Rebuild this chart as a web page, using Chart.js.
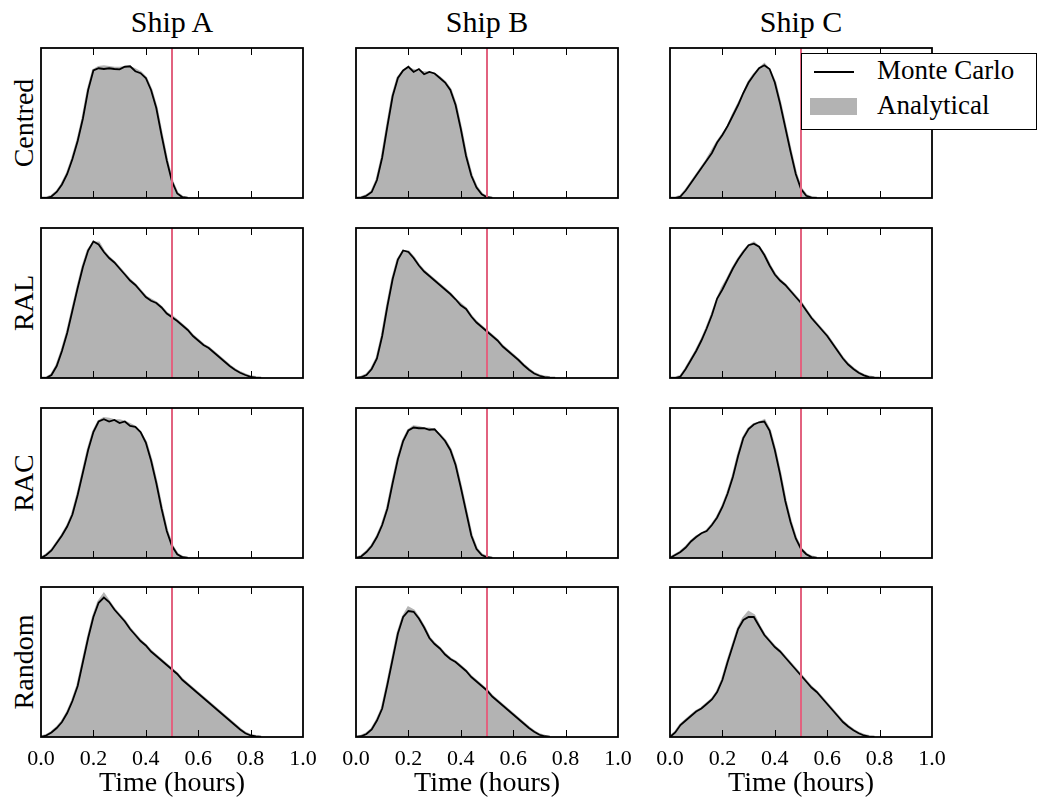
<!DOCTYPE html>
<html><head><meta charset="utf-8">
<script src="https://cdn.jsdelivr.net/npm/chart.js@4.4.1/dist/chart.umd.min.js"></script>
<style>
html,body{margin:0;padding:0;background:#fff;overflow:hidden;}
#fig{position:relative;width:1041px;height:803px;font-family:'Liberation Serif',serif;color:#000;overflow:hidden;}
.panel{position:absolute;}
.coltitle{position:absolute;font-size:30px;line-height:30px;white-space:nowrap;transform:translateX(-50%);}
.rowlabel{position:absolute;font-size:28px;white-space:nowrap;transform:translate(-50%,-50%) rotate(-90deg);}
#legend{position:absolute;left:801px;top:53px;width:234px;height:75px;border:1.5px solid #000;background:#fff;z-index:5;}
#legend .txt{position:absolute;left:75px;font-size:27px;line-height:27px;white-space:nowrap;}
</style></head><body><div id="fig"></div>
<script>
// ---- data ----
const ships = ['Ship A', 'Ship B', 'Ship C'];
const strategies = ['Centred', 'RAL', 'RAC', 'Random'];
const xTicks = [0, 0.2, 0.4, 0.6, 0.8, 1.0];
const threshold = 0.5;
const timeGrid = [0,0.02,0.04,0.06,0.08,0.1,0.12,0.14,0.16,0.18,0.2,0.22,0.24,0.26,0.28,0.3,0.32,0.34,0.36,0.38,0.4,0.42,0.44,0.46,0.48,0.5,0.52,0.54,0.56,0.58,0.6,0.62,0.64,0.66,0.68,0.7,0.72,0.74,0.76,0.78,0.8,0.82,0.84,0.86,0.88,0.9,0.92,0.94,0.96,0.98,1];

const anaCentredA = [0,0,0.01,0.04,0.09,0.16,0.26,0.38,0.53,0.72,0.85,0.87,0.875,0.87,0.865,0.865,0.87,0.87,0.855,0.835,0.8,0.72,0.6,0.42,0.25,0.11,0.03,0.005,0];
const mcCentredA  = [0,0,0.01,0.04,0.09,0.16,0.26,0.38,0.53,0.72,0.85,0.865,0.86,0.865,0.86,0.858,0.875,0.878,0.845,0.832,0.8,0.72,0.6,0.42,0.25,0.11,0.03,0.005,0];
const anaCentredB = [0,0.003,0.015,0.04,0.12,0.27,0.48,0.68,0.8,0.845,0.86,0.85,0.84,0.835,0.835,0.825,0.8,0.77,0.72,0.62,0.46,0.28,0.15,0.07,0.025,0.005,0];
const mcCentredB  = [0,0.003,0.015,0.04,0.12,0.27,0.48,0.68,0.8,0.85,0.875,0.84,0.86,0.825,0.84,0.83,0.8,0.77,0.72,0.62,0.46,0.28,0.15,0.07,0.025,0.005,0];
const anaCentredC = [0,0,0.01,0.05,0.1,0.15,0.2,0.25,0.31,0.37,0.42,0.47,0.55,0.62,0.69,0.77,0.82,0.86,0.89,0.85,0.77,0.63,0.47,0.31,0.16,0.06,0.015,0.003,0];
const mcCentredC  = [0,0,0.01,0.05,0.1,0.15,0.2,0.25,0.3,0.37,0.42,0.48,0.55,0.62,0.7,0.77,0.82,0.865,0.885,0.86,0.77,0.63,0.47,0.31,0.16,0.06,0.015,0.003,0];

const anaRalA = [0,0,0.02,0.08,0.18,0.3,0.45,0.6,0.74,0.85,0.9,0.9,0.84,0.8,0.77,0.73,0.69,0.65,0.62,0.58,0.54,0.52,0.5,0.47,0.43,0.41,0.38,0.35,0.32,0.28,0.25,0.22,0.2,0.17,0.14,0.11,0.08,0.055,0.035,0.02,0.008,0.003,0];
const mcRalA  = [0,0,0.02,0.08,0.18,0.3,0.45,0.6,0.74,0.85,0.91,0.89,0.84,0.8,0.77,0.73,0.69,0.65,0.62,0.58,0.54,0.515,0.5,0.47,0.43,0.405,0.38,0.35,0.32,0.28,0.25,0.22,0.2,0.17,0.14,0.11,0.08,0.055,0.035,0.02,0.008,0.003,0];
const anaRalB = [0,0.005,0.02,0.06,0.13,0.28,0.48,0.66,0.79,0.845,0.84,0.8,0.75,0.71,0.68,0.65,0.62,0.59,0.56,0.52,0.49,0.46,0.41,0.37,0.34,0.31,0.28,0.25,0.21,0.18,0.15,0.12,0.085,0.055,0.03,0.015,0.006,0.002,0];
const mcRalB  = [0,0.005,0.02,0.06,0.13,0.28,0.48,0.66,0.79,0.85,0.84,0.8,0.75,0.71,0.68,0.65,0.62,0.59,0.56,0.525,0.485,0.46,0.41,0.37,0.34,0.31,0.28,0.25,0.21,0.18,0.15,0.12,0.085,0.055,0.03,0.015,0.006,0.002,0];
const anaRalC = [0,0,0.01,0.06,0.12,0.18,0.25,0.33,0.42,0.52,0.6,0.66,0.73,0.79,0.84,0.88,0.9,0.87,0.82,0.75,0.69,0.65,0.62,0.58,0.54,0.5,0.45,0.4,0.36,0.32,0.28,0.23,0.18,0.13,0.09,0.06,0.035,0.018,0.006,0.002,0];
const mcRalC  = [0,0,0.01,0.06,0.12,0.18,0.25,0.33,0.42,0.53,0.59,0.66,0.73,0.79,0.84,0.885,0.895,0.875,0.82,0.75,0.69,0.65,0.62,0.58,0.54,0.5,0.45,0.4,0.36,0.32,0.28,0.23,0.18,0.13,0.09,0.06,0.035,0.018,0.006,0.002,0];

const anaRacA = [0,0.02,0.05,0.1,0.15,0.21,0.29,0.42,0.57,0.72,0.84,0.91,0.93,0.925,0.915,0.915,0.905,0.89,0.87,0.83,0.77,0.65,0.5,0.33,0.18,0.08,0.025,0.005,0];
const mcRacA  = [0,0.02,0.05,0.1,0.15,0.21,0.29,0.42,0.57,0.72,0.84,0.91,0.925,0.91,0.92,0.9,0.91,0.88,0.875,0.84,0.77,0.65,0.5,0.33,0.18,0.08,0.025,0.005,0];
const anaRacB = [0,0.01,0.04,0.08,0.14,0.22,0.33,0.5,0.66,0.78,0.85,0.875,0.87,0.86,0.86,0.85,0.82,0.78,0.72,0.62,0.47,0.31,0.15,0.06,0.02,0.005,0];
const mcRacB  = [0,0.01,0.04,0.08,0.14,0.22,0.33,0.5,0.66,0.78,0.85,0.87,0.865,0.865,0.855,0.858,0.82,0.78,0.72,0.62,0.47,0.31,0.15,0.06,0.02,0.005,0];
const anaRacC = [0,0.02,0.04,0.07,0.11,0.14,0.16,0.18,0.22,0.27,0.34,0.43,0.54,0.68,0.8,0.86,0.89,0.9,0.915,0.85,0.72,0.56,0.38,0.24,0.13,0.06,0.025,0.006,0];
const mcRacC  = [0,0.02,0.04,0.07,0.11,0.14,0.165,0.18,0.22,0.27,0.34,0.43,0.54,0.68,0.8,0.86,0.89,0.905,0.91,0.85,0.72,0.56,0.38,0.24,0.13,0.06,0.025,0.006,0];

const anaRandomA = [0,0.01,0.03,0.06,0.1,0.16,0.24,0.34,0.5,0.66,0.8,0.9,0.95,0.9,0.85,0.81,0.77,0.72,0.68,0.64,0.61,0.57,0.54,0.51,0.48,0.45,0.42,0.38,0.35,0.32,0.29,0.26,0.23,0.2,0.17,0.14,0.11,0.08,0.05,0.025,0.01,0.004,0];
const mcRandomA  = [0,0.01,0.03,0.06,0.1,0.16,0.24,0.34,0.5,0.66,0.8,0.895,0.93,0.9,0.85,0.81,0.77,0.72,0.68,0.64,0.61,0.57,0.54,0.51,0.48,0.45,0.42,0.38,0.35,0.32,0.29,0.26,0.23,0.2,0.17,0.14,0.11,0.08,0.05,0.025,0.01,0.004,0];
const anaRandomB = [0,0.005,0.02,0.05,0.11,0.19,0.35,0.52,0.69,0.8,0.86,0.84,0.79,0.73,0.66,0.62,0.59,0.55,0.52,0.5,0.47,0.44,0.4,0.37,0.34,0.31,0.27,0.24,0.21,0.18,0.15,0.12,0.09,0.06,0.035,0.015,0.005,0];
const mcRandomB  = [0,0.005,0.02,0.05,0.11,0.19,0.35,0.52,0.69,0.8,0.84,0.835,0.79,0.73,0.66,0.62,0.59,0.55,0.52,0.5,0.47,0.44,0.4,0.37,0.34,0.31,0.27,0.24,0.21,0.18,0.15,0.12,0.09,0.06,0.035,0.015,0.005,0];
const anaRandomC = [0,0.03,0.08,0.11,0.14,0.17,0.19,0.22,0.25,0.3,0.38,0.5,0.61,0.72,0.79,0.83,0.81,0.74,0.68,0.64,0.6,0.57,0.53,0.49,0.45,0.41,0.37,0.33,0.3,0.26,0.22,0.18,0.14,0.1,0.07,0.045,0.025,0.01,0.003,0];
const mcRandomC  = [0,0.03,0.08,0.11,0.14,0.17,0.19,0.22,0.25,0.3,0.38,0.5,0.61,0.72,0.78,0.8,0.8,0.74,0.68,0.64,0.6,0.57,0.53,0.49,0.45,0.41,0.37,0.33,0.3,0.26,0.22,0.18,0.14,0.1,0.07,0.045,0.025,0.01,0.003,0];

// table built from the arrays: [row][col] -> [analytical, monteCarlo]
const panelData = [
  [[anaCentredA, mcCentredA], [anaCentredB, mcCentredB], [anaCentredC, mcCentredC]],
  [[anaRalA, mcRalA], [anaRalB, mcRalB], [anaRalC, mcRalC]],
  [[anaRacA, mcRacA], [anaRacB, mcRacB], [anaRacC, mcRacC]],
  [[anaRandomA, mcRandomA], [anaRandomB, mcRandomB], [anaRandomC, mcRandomC]]
];

// ---- layout ----
const colLeft = [41, 356, 670];
const rowTop = [48, 228, 408, 587];
const plotW = 262, plotH = 150;
const padX = 26, padY = 12, bottomAxisH = 65;

Chart.defaults.font.family = "'Liberation Serif', serif";
Chart.defaults.color = '#000';

const framePlugin = {
  id: 'frame',
  afterDraw(chart) {
    const {ctx, chartArea: a, scales} = chart;
    ctx.save();
    ctx.strokeStyle = '#000';
    ctx.lineWidth = 1;
    xTicks.slice(1, -1).forEach(v => {
      const px = Math.round(scales.x.getPixelForValue(v)) + 0.5;
      ctx.beginPath();
      ctx.moveTo(px, a.bottom); ctx.lineTo(px, a.bottom - 7);
      ctx.moveTo(px, a.top); ctx.lineTo(px, a.top + 7);
      ctx.stroke();
    });
    ctx.lineWidth = 1.8;
    ctx.strokeRect(a.left, a.top, a.right - a.left, a.bottom - a.top);
    ctx.restore();
  }
};

const fig = document.getElementById('fig');

ships.forEach((s, c) => {
  const d = document.createElement('div');
  d.className = 'coltitle';
  d.textContent = s;
  d.style.left = (colLeft[c] + plotW / 2) + 'px';
  d.style.top = '7px';
  fig.appendChild(d);
});
strategies.forEach((s, r) => {
  const d = document.createElement('div');
  d.className = 'rowlabel';
  d.textContent = s;
  d.style.left = '23.5px';
  d.style.top = (rowTop[r] + plotH / 2) + 'px';
  fig.appendChild(d);
});

const toPts = arr => arr.map((v, i) => ({x: timeGrid[i], y: v}));

for (let r = 0; r < 4; r++) {
  for (let c = 0; c < 3; c++) {
    const isBottom = r === 3;
    const W = plotW + 2 * padX;
    const H = plotH + padY + (isBottom ? bottomAxisH : padY);
    const wrap = document.createElement('div');
    wrap.className = 'panel';
    wrap.style.left = (colLeft[c] - padX) + 'px';
    wrap.style.top = (rowTop[r] - padY) + 'px';
    const cv = document.createElement('canvas');
    cv.width = W; cv.height = H;
    cv.style.width = W + 'px'; cv.style.height = H + 'px';
    wrap.appendChild(cv);
    fig.appendChild(wrap);
    const [ana, mc] = panelData[r][c];
    new Chart(cv, {
      type: 'line',
      data: {
        datasets: [
          { label: 'threshold', data: [{x: threshold, y: 0}, {x: threshold, y: 1}],
            borderColor: '#e2627f', borderWidth: 2, pointRadius: 0, fill: false },
          { label: 'Monte Carlo', data: toPts(mc), borderColor: '#000', borderWidth: 1.8,
            pointRadius: 0, fill: false, tension: 0 },
          { label: 'Analytical', data: toPts(ana), borderColor: '#b4b4b4', borderWidth: 3,
            backgroundColor: '#b3b3b3', pointRadius: 0, fill: 'origin', tension: 0 }
        ]
      },
      options: {
        responsive: false, animation: false, devicePixelRatio: 1,
        layout: { padding: { left: padX, right: padX, top: padY, bottom: isBottom ? 0 : padY } },
        plugins: { legend: { display: false }, tooltip: { enabled: false } },
        scales: {
          x: {
            type: 'linear', min: 0, max: 1,
            grid: { display: false, drawTicks: false }, border: { display: false },
            ticks: { display: isBottom, stepSize: 0.2, padding: 9, maxRotation: 0, autoSkip: false,
                     font: { size: 22 }, callback: v => Number(v).toFixed(1) },
            title: { display: isBottom, text: 'Time (hours)', font: { size: 28 }, padding: { top: 0, bottom: 2 } },
            afterFit: sc => { sc.height = isBottom ? bottomAxisH : 0; }
          },
          y: { display: false, min: 0, max: 1 }
        }
      },
      plugins: [framePlugin]
    });
  }
}

// legend
const lg = document.createElement('div');
lg.id = 'legend';
lg.innerHTML =
  '<div style="position:absolute;left:12px;top:17px;width:40px;border-top:2px solid #000"></div>' +
  '<div class="txt" style="top:3px">Monte Carlo</div>' +
  '<div style="position:absolute;left:8px;top:44px;width:47px;height:17px;background:#b3b3b3"></div>' +
  '<div class="txt" style="top:38px">Analytical</div>';
fig.appendChild(lg);
</script>
</body></html>
